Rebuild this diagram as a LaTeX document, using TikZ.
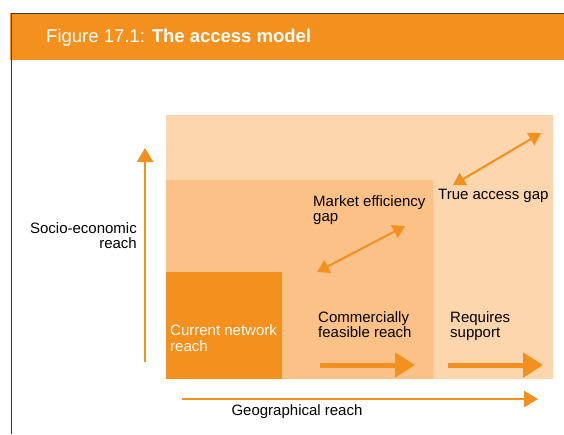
\documentclass[tikz,border=0pt]{standalone}
\usepackage{fontspec}
\setmainfont{Liberation Sans}
\usetikzlibrary{arrows.meta}
\definecolor{orng}{HTML}{F4901E}
\definecolor{lite}{HTML}{FDD6AE}
\definecolor{med}{HTML}{FBC187}
\definecolor{frame}{HTML}{3A3A3A}
\tikzset{
  lbl/.style={anchor=base west, align=left, inner sep=0pt, font=\fontsize{15}{15.5}\selectfont},
  axisarrow/.style={draw=orng, line width=2.2pt, -{Triangle[length=14pt,width=16pt]}},
  fatarrow/.style={draw=orng, line width=5pt, -{Triangle[length=20pt,width=24pt]}},
  gaparrow/.style={draw=orng, line width=2pt, {Triangle[length=12pt,width=14pt]}-{Triangle[length=12pt,width=14pt]}}
}
\begin{document}
\begin{tikzpicture}[x=1pt,y=-1pt]
\useasboundingbox (0,0) rectangle (564,434);
% banner
\fill[orng] (10,13) rectangle (564,60);
\draw[frame, line width=0.9pt] (11,434) -- (11,13) -- (564,13);
\node[anchor=base west, inner sep=0pt, text=white, font=\fontsize{18.5}{20}\selectfont] (title) at (46,42) {Figure 17.1: \textbf{The access model}};
% regions
\fill[lite] (166,115) rectangle (553,379);
\fill[med] (166,180) rectangle (433,379);
\fill[orng] (166,272) rectangle (282,379);
% labels (multi-line nodes: base anchor = last line baseline)
\node[lbl, anchor=base east, align=right] (socio) at (137,248.5) {Socio-economic\\reach};
\node[lbl] (market) at (313,221.5) {Market efficiency\\gap};
\node[lbl] (truegap) at (438,199) {True access gap};
\node[lbl, text=white, font=\fontsize{15}{16}\selectfont] (current) at (170,351) {Current network\\reach};
\node[lbl] (commerc) at (318,337.5) {Commercially\\feasible reach};
\node[lbl] (requires) at (450,337.5) {Requires\\support};
\node[lbl, anchor=base] (geo) at (297,415) {Geographical reach};
% arrows
\coordinate (v0) at (145,362);
\coordinate (v1) at (145,148);
\draw[axisarrow] (v0) -- (v1);
\coordinate (g0) at (182,399);
\coordinate (g1) at (538,399);
\draw[axisarrow, line width=2.5pt] (g0) -- (g1);
\coordinate (c0) at (320,365);
\coordinate (c1) at (415,365);
\draw[fatarrow] (c0) -- (c1);
\coordinate (r0) at (448,365);
\coordinate (r1) at (543,365);
\draw[fatarrow] (r0) -- (r1);
\coordinate (m0) at (317,272);
\coordinate (m1) at (405,226);
\draw[gaparrow] (m0) -- (m1);
\coordinate (t0) at (453,185);
\coordinate (t1) at (541,133);
\draw[gaparrow] (t0) -- (t1);
\end{tikzpicture}
\end{document}
